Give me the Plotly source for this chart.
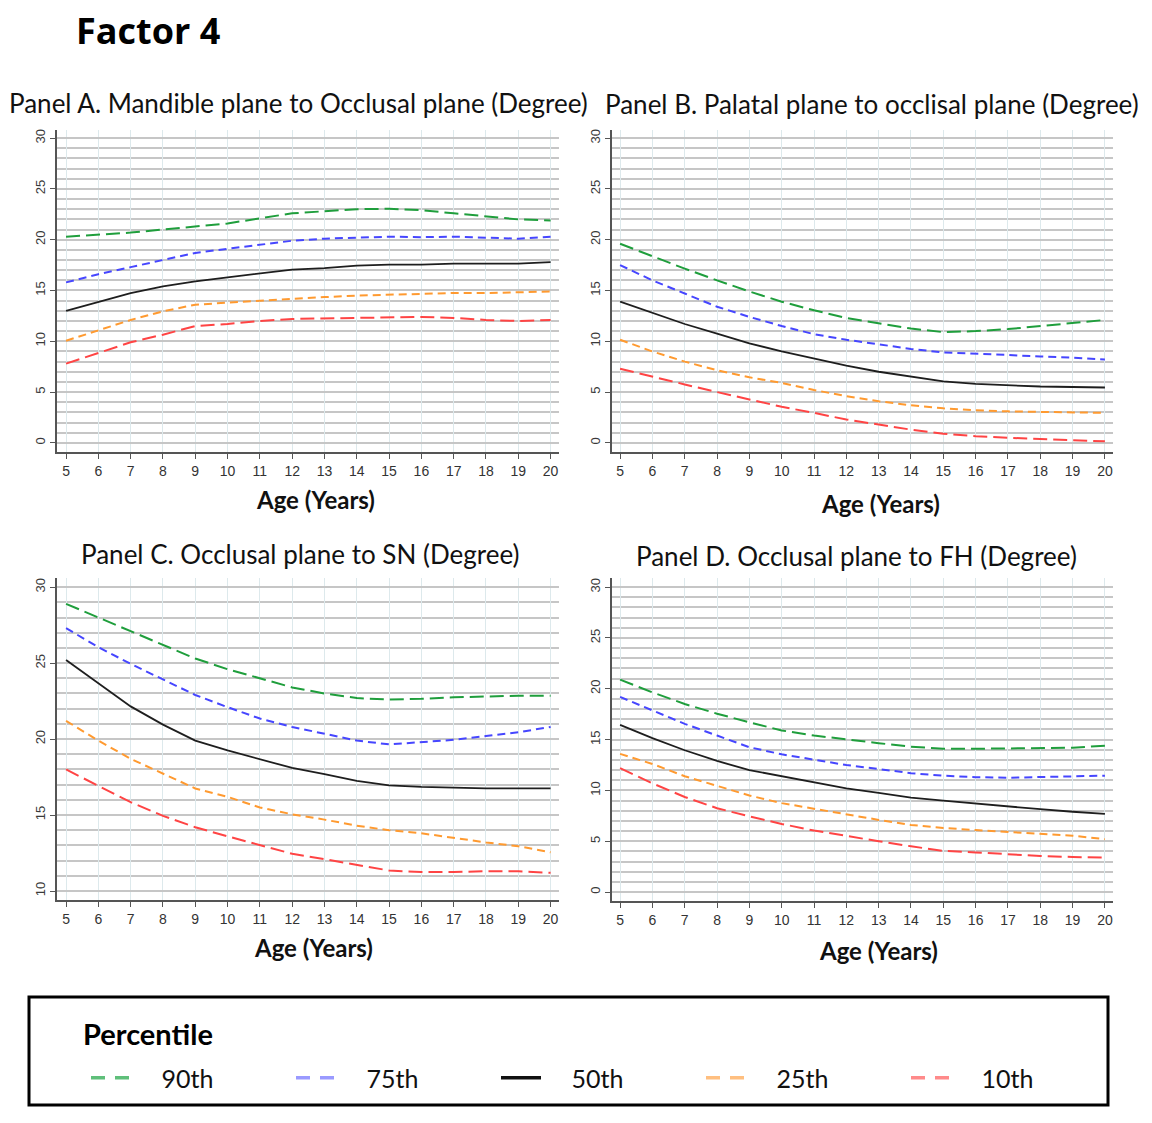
import plotly.graph_objects as go

# ---------------- data ----------------
ages = list(range(5, 21))
percentiles = ["90th", "75th", "50th", "25th", "10th"]

# Panel A. Mandible plane to Occlusal plane
a_p90 = [20.3, 20.5, 20.7, 21.0, 21.3, 21.6, 22.1, 22.6, 22.8, 23.0, 23.05, 22.9, 22.6, 22.3, 22.0, 21.9]
a_p75 = [15.8, 16.6, 17.3, 18.0, 18.7, 19.1, 19.5, 19.9, 20.1, 20.2, 20.3, 20.25, 20.3, 20.2, 20.1, 20.3]
a_p50 = [13.0, 13.9, 14.75, 15.4, 15.9, 16.3, 16.7, 17.05, 17.2, 17.45, 17.55, 17.55, 17.65, 17.65, 17.65, 17.8]
a_p25 = [10.05, 11.1, 12.1, 12.95, 13.6, 13.8, 14.0, 14.2, 14.35, 14.5, 14.6, 14.7, 14.75, 14.75, 14.8, 14.9]
a_p10 = [7.8, 8.85, 9.9, 10.65, 11.5, 11.7, 12.0, 12.2, 12.25, 12.3, 12.33, 12.4, 12.3, 12.1, 12.0, 12.1]

# Panel B. Palatal plane to occlusal plane
b_p90 = [19.6, 18.35, 17.15, 16.0, 14.9, 13.9, 13.05, 12.3, 11.75, 11.25, 10.9, 11.0, 11.2, 11.5, 11.75, 12.1]
b_p75 = [17.5, 16.0, 14.7, 13.4, 12.4, 11.5, 10.7, 10.15, 9.7, 9.25, 8.9, 8.8, 8.65, 8.5, 8.4, 8.2]
b_p50 = [13.9, 12.8, 11.7, 10.75, 9.8, 9.0, 8.3, 7.6, 7.0, 6.5, 6.05, 5.8, 5.65, 5.55, 5.5, 5.45]
b_p25 = [10.15, 9.0, 8.0, 7.15, 6.45, 5.9, 5.2, 4.6, 4.1, 3.7, 3.4, 3.2, 3.1, 3.05, 3.05, 2.95]
b_p10 = [7.3, 6.5, 5.75, 5.0, 4.25, 3.55, 2.95, 2.3, 1.8, 1.3, 0.9, 0.65, 0.5, 0.4, 0.27, 0.15]

# Panel C. Occlusal plane to SN
c_p90 = [28.9, 28.0, 27.1, 26.15, 25.3, 24.6, 24.0, 23.4, 23.0, 22.7, 22.6, 22.65, 22.75, 22.8, 22.85, 22.85]
c_p75 = [27.3, 26.05, 24.95, 23.9, 22.9, 22.1, 21.35, 20.8, 20.35, 19.9, 19.65, 19.8, 19.95, 20.2, 20.45, 20.8]
c_p50 = [25.2, 23.65, 22.15, 20.95, 19.9, 19.25, 18.65, 18.1, 17.7, 17.25, 16.95, 16.85, 16.8, 16.75, 16.75, 16.75]
c_p25 = [21.2, 19.9, 18.7, 17.7, 16.75, 16.2, 15.5, 15.05, 14.7, 14.3, 14.0, 13.8, 13.5, 13.2, 12.95, 12.55]
c_p10 = [18.0, 16.9, 15.85, 14.95, 14.2, 13.6, 13.0, 12.45, 12.1, 11.7, 11.35, 11.25, 11.25, 11.3, 11.3, 11.2]

# Panel D. Occlusal plane to FH
d_p90 = [20.9, 19.65, 18.5, 17.55, 16.7, 15.9, 15.4, 15.0, 14.65, 14.3, 14.1, 14.1, 14.15, 14.2, 14.2, 14.4]
d_p75 = [19.2, 17.85, 16.55, 15.4, 14.25, 13.55, 13.0, 12.5, 12.1, 11.7, 11.45, 11.3, 11.25, 11.3, 11.4, 11.45]
d_p50 = [16.45, 15.15, 13.95, 12.9, 12.0, 11.4, 10.8, 10.2, 9.75, 9.3, 9.0, 8.7, 8.4, 8.15, 7.9, 7.7]
d_p25 = [13.6, 12.6, 11.4, 10.45, 9.5, 8.75, 8.2, 7.6, 7.1, 6.6, 6.3, 6.1, 5.9, 5.7, 5.55, 5.2]
d_p10 = [12.2, 10.7, 9.35, 8.25, 7.45, 6.7, 6.05, 5.5, 5.0, 4.5, 4.05, 3.9, 3.7, 3.55, 3.45, 3.4]

y_ticks_abd = [0, 5, 10, 15, 20, 25, 30]
y_ticks_c = [10, 15, 20, 25, 30]

# ---------------- styles ----------------
W, H = 1152, 1123
line_colors = ["#1f9e3c", "#4646ff", "#1e1e1e", "#ff9a30", "#ff4444"]
legend_colors = ["#5fbf7a", "#9a9aff", "#111111", "#ffbf80", "#ff8a8a"]
dashes = ["14px,6px", "8px,5px", "solid", "8px,5px", "14px,6px"]
widths = [2, 2, 1.8, 2, 2]

panels = [
    dict(ax="", series=[a_p90, a_p75, a_p50, a_p25, a_p10],
         title="Panel A. Mandible plane to Occlusal plane (Degree)",
         px=(57, 559), py=(130, 452), xr=[4.72, 20.26], yr=[-0.9, 30.8], yt=y_ticks_abd,
         tpos=(298, 103), apos=(315, 500)),
    dict(ax="2", series=[b_p90, b_p75, b_p50, b_p25, b_p10],
         title="Panel B. Palatal plane to occlisal plane (Degree)",
         px=(612, 1113), py=(130, 452), xr=[4.75, 20.25], yr=[-0.9, 30.8], yt=y_ticks_abd,
         tpos=(872, 104), apos=(880, 503)),
    dict(ax="3", series=[c_p90, c_p75, c_p50, c_p25, c_p10],
         title="Panel C. Occlusal plane to SN (Degree)",
         px=(57, 559), py=(578, 900), xr=[4.72, 20.26], yr=[9.41, 30.6], yt=y_ticks_c,
         tpos=(300, 554), apos=(313, 947)),
    dict(ax="4", series=[d_p90, d_p75, d_p50, d_p25, d_p10],
         title="Panel D. Occlusal plane to FH (Degree)",
         px=(612, 1113), py=(578, 901), xr=[4.75, 20.25], yr=[-0.88, 30.9], yt=y_ticks_abd,
         tpos=(856, 556), apos=(878, 950)),
]

fig = go.Figure()
layout = dict(
    width=W, height=H, autosize=False,
    margin=dict(l=0, r=0, t=0, b=0),
    paper_bgcolor="white", plot_bgcolor="white",
    annotations=[], shapes=[],
)

tick_font = dict(family="Liberation Sans, Arial, sans-serif", size=13, color="#3a3a3a")

for p in panels:
    s = p["ax"]
    for name, vals, col, dash, w in zip(percentiles, p["series"], line_colors, dashes, widths):
        fig.add_trace(go.Scatter(
            x=ages, y=vals, mode="lines", name=name, showlegend=False,
            line=dict(color=col, dash=dash, width=w),
            xaxis="x" + s, yaxis="y" + s,
        ))
    layout["xaxis" + s] = dict(
        domain=[p["px"][0] / W, p["px"][1] / W], range=p["xr"],
        anchor="y" + s, tickmode="array", tickvals=ages,
        showgrid=True, gridcolor="#dde9ec", gridwidth=1,
        showline=True, linecolor="#555555", linewidth=1.5,
        ticks="outside", ticklen=5, tickcolor="#555555",
        tickfont=dict(family="Liberation Sans, Arial, sans-serif", size=14, color="#333333"),
        zeroline=False, fixedrange=True,
    )
    layout["yaxis" + s] = dict(
        domain=[1 - p["py"][1] / H, 1 - p["py"][0] / H], range=p["yr"],
        anchor="x" + s, tickmode="array", tickvals=p["yt"],
        tickangle=-90,
        showgrid=True, gridcolor="#c6c6c6", gridwidth=1.7,
        minor=dict(dtick=1, tick0=0, showgrid=True, gridcolor="#c6c6c6", gridwidth=1.7, ticks=""),
        showline=True, linecolor="#555555", linewidth=1.5,
        ticks="outside", ticklen=5, tickcolor="#555555",
        tickfont=tick_font, zeroline=False, fixedrange=True,
    )
    layout["annotations"].append(dict(
        text=p["title"], xref="paper", yref="paper",
        x=p["tpos"][0] / W, y=1 - p["tpos"][1] / H, xanchor="center", yanchor="middle",
        showarrow=False, font=dict(family="Lato", size=26, color="#111111"),
    ))
    layout["annotations"].append(dict(
        text="<b>Age (Years)</b>", xref="paper", yref="paper",
        x=p["apos"][0] / W, y=1 - p["apos"][1] / H, xanchor="center", yanchor="middle",
        showarrow=False, font=dict(family="Lato", size=24, color="#111111"),
    ))

layout["annotations"].append(dict(
    text="<b>Factor 4</b>", xref="paper", yref="paper",
    x=74 / W, y=1 - 30 / H, xanchor="left", yanchor="middle",
    showarrow=False, font=dict(family="Open Sans", size=36, color="#000000"),
))

# legend box and title
layout["shapes"].append(dict(
    type="rect", xref="paper", yref="paper",
    x0=29 / W, x1=1108 / W, y0=1 - 1105 / H, y1=1 - 997 / H,
    line=dict(color="#000000", width=3), fillcolor="rgba(0,0,0,0)",
))
layout["annotations"].append(dict(
    text="<b>Percentile</b>", xref="paper", yref="paper",
    x=81 / W, y=1 - 1033 / H, xanchor="left", yanchor="middle",
    showarrow=False, font=dict(family="Lato", size=29, color="#000000"),
))

# legend entries
for name, col, dash in zip(percentiles, legend_colors, dashes):
    fig.add_trace(go.Scatter(
        x=[None], y=[None], mode="lines", name="\u00a0\u00a0\u00a0\u00a0" + name, showlegend=True,
        line=dict(color=col, dash=dash if dash == "solid" else "14px,10px", width=3.5),
        xaxis="x", yaxis="y",
    ))

layout["legend"] = dict(
    orientation="h", x=86 / W, y=1 - 1078 / H, xanchor="left", yanchor="middle",
    font=dict(family="Lato", size=25, color="#111111"),
    entrywidth=150, entrywidthmode="pixels", itemwidth=40,
    bgcolor="rgba(0,0,0,0)", borderwidth=0,
)

fig.update_layout(**layout)
fig.write_html("out.html")
